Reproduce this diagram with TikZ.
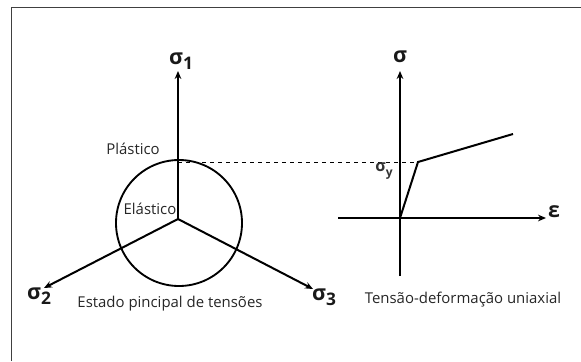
\documentclass[tikz,border=0pt]{standalone}
\usepackage{fontspec}
\setmainfont{Open Sans}
\usepackage{tikz}
\usetikzlibrary{arrows.meta,positioning,calc}
\newcommand{\sig}[1]{σ\raisebox{-0.45ex}{\fontsize{13}{14}\selectfont #1}}

\begin{document}
\begin{tikzpicture}[
  x=0.75pt, y=-0.75pt,
  axis/.style={-{Stealth[length=6pt,width=5pt]}, line width=1.5pt},
  plain/.style={line width=1.5pt},
  lbl/.style={inner sep=0pt, text=black!85, font=\fontsize{11.2}{13}\selectfont},
  greek/.style={inner sep=0pt, text=black!90, font=\fontsize{16}{18}\selectfont\bfseries}
]
\useasboundingbox (0,0) rectangle (581,361);
% ── Frame ────────────────────────────────────────────────────────────────────
\draw[line width=1.2pt, black!75] (11.5,361) -- (11.5,7.5) -- (581,7.5);

% ── Principal stress state ───────────────────────────────────────────────────
\coordinate (o)  at (178,219);
\coordinate (s1) at (178,71);
\coordinate (s2) at (44,288);
\coordinate (s3) at (313,289);
\node[draw, circle, line width=1.4pt, minimum size=94.5pt, inner sep=0pt] (yield) at (179,223) {};
\coordinate (top) at (178,162);

\draw[axis] (o) -- (s1);
\draw[axis] (o) -- (s2);
\draw[axis] (o) -- (s3);

\node[greek] (lab1) at (181,61)  {\sig{1}};
\node[greek] (lab2) at (39,296)  {\sig{2}};
\node[greek] (lab3) at (324,297) {\sig{3}};

\node[lbl] (plast) at (133,149) {Plástico};
\node[lbl] (elast) at (150,209) {Elástico};
\node[lbl] (state) at (170,304) {Estado pincipal de tensões};

% ── Uniaxial stress-strain ───────────────────────────────────────────────────
\coordinate (g0)   at (400,218);
\coordinate (gtop) at (400,71);
\coordinate (gbot) at (400,276);
\coordinate (gl)   at (338,218);
\coordinate (gr)   at (546,218);
\coordinate (gy)   at (418,162);
\coordinate (gend) at (513,134);

\draw[plain] (gbot) -- (g0);
\draw[axis] (g0) -- (gtop);
\draw[axis] (gl) -- (gr);
\draw[plain] (g0) -- (gy) -- (gend);
\draw[dashed, line width=0.7pt] (top) -- (gy);

\node[greek] (sig)  at (400,57)  {σ};
\node[greek] (eps)  at (554,212) {ε};
\node[inner sep=0pt, text=black!80, font=\fontsize{12}{13}\selectfont\bfseries] (sigy) at (384,171) {σ\raisebox{-0.5ex}{\fontsize{9}{10}\selectfont y}};
\node[lbl] (uni) at (463,300) {Tensão-deformação uniaxial};
\end{tikzpicture}
\end{document}
